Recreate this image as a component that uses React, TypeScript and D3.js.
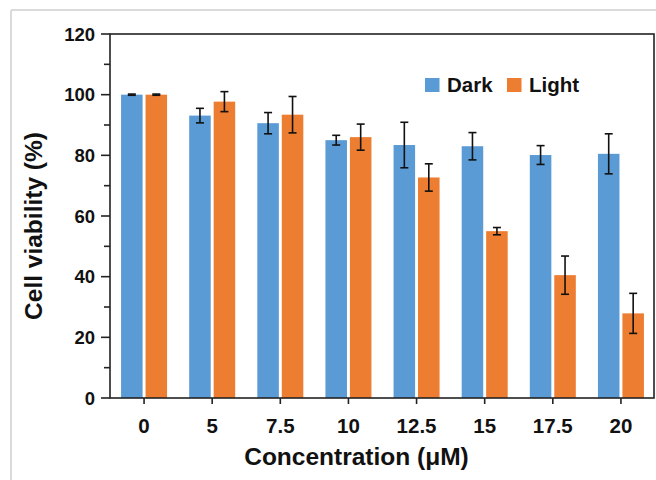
import React from "react";
import * as d3 from "d3";

// concentrations (µM) and viability values
const concentrations = ["0", "5", "7.5", "10", "12.5", "15", "17.5", "20"];
const seriesNames = ["Dark", "Light"];
const darkMean = [100, 93.1, 90.6, 85.0, 83.4, 83.0, 80.1, 80.5];
const darkErr = [0.2, 2.4, 3.5, 1.6, 7.5, 4.5, 3.1, 6.6];
const lightMean = [100, 97.7, 93.4, 86.0, 72.7, 55.0, 40.5, 27.9];
const lightErr = [0.2, 3.3, 6.0, 4.3, 4.5, 1.2, 6.3, 6.6];
const yTicks = [0, 20, 40, 60, 80, 100, 120];
const yMinorTicks = [10, 30, 50, 70, 90, 110];

const colors: Record<string, string> = { Dark: "#5B9BD5", Light: "#ED7D31" };
const FONT = "'Liberation Sans', Arial, sans-serif";

export default function App() {
  const W = 656;
  const H = 480;
  const margin = { top: 34, right: 1, bottom: 82, left: 110 };
  const x0 = margin.left;
  const x1 = W - margin.right;
  const yTop = margin.top;
  const yBottom = H - margin.bottom;

  const x = d3.scaleBand().domain(concentrations).range([x0, x1]).padding(0);
  const y = d3.scaleLinear().domain([0, 120]).range([yBottom, yTop]);

  const rows = concentrations.map((c, i) => ({
    c,
    values: [
      { key: "Dark", mean: darkMean[i], err: darkErr[i] },
      { key: "Light", mean: lightMean[i], err: lightErr[i] },
    ],
  }));

  const half = 23;
  const inner = d3.scaleBand().domain(seriesNames).range([-half, half]).paddingInner(0.12);
  const cap = 4;

  return (
    <svg
      width={W}
      height={H}
      style={{ position: "absolute", left: 0, top: 0, background: "#fff" }}
      fontFamily={FONT}
    >
      {/* outer light frame */}
      <line x1={11} x2={W} y1={10} y2={10} stroke="#dadada" strokeWidth={2} />
      <line x1={11} x2={11} y1={10} y2={H} stroke="#dadada" strokeWidth={2} />

      {/* bars */}
      {rows.map((r) => {
        const cx = (x(r.c) as number) + x.bandwidth() / 2;
        return (
          <g key={r.c} transform={`translate(${cx},0)`}>
            {r.values.map((v) => {
              const bx = inner(v.key) as number;
              const bw = inner.bandwidth();
              const mx = bx + bw / 2;
              return (
                <g key={v.key}>
                  <rect
                    x={bx}
                    y={y(v.mean)}
                    width={bw}
                    height={y(0) - y(v.mean)}
                    fill={colors[v.key]}
                  />
                  <g stroke="#111" strokeWidth={1.6}>
                    <line x1={mx} x2={mx} y1={y(v.mean + v.err)} y2={y(v.mean - v.err)} />
                    <line x1={mx - cap} x2={mx + cap} y1={y(v.mean + v.err)} y2={y(v.mean + v.err)} />
                    <line x1={mx - cap} x2={mx + cap} y1={y(v.mean - v.err)} y2={y(v.mean - v.err)} />
                  </g>
                </g>
              );
            })}
          </g>
        );
      })}

      {/* plot frame */}
      <rect
        x={x0}
        y={yTop}
        width={x1 - x0 - 1}
        height={yBottom - yTop}
        fill="none"
        stroke="#222"
        strokeWidth={1.6}
      />

      {/* y axis ticks */}
      {yTicks.map((t) => (
        <g key={t}>
          <line x1={x0 - 9} x2={x0} y1={y(t)} y2={y(t)} stroke="#222" strokeWidth={1.6} />
          <text
            x={x0 - 15}
            y={y(t)}
            dy="0.36em"
            textAnchor="end"
            fontSize={18.5}
            fontWeight="bold"
            fill="#111"
          >
            {t}
          </text>
        </g>
      ))}
      {yMinorTicks.map((t) => (
        <line key={t} x1={x0 - 6} x2={x0} y1={y(t)} y2={y(t)} stroke="#222" strokeWidth={1.6} />
      ))}

      {/* x axis ticks */}
      {concentrations.map((c) => {
        const cx = (x(c) as number) + x.bandwidth() / 2;
        return (
          <g key={c}>
            <line x1={cx} x2={cx} y1={yBottom} y2={yBottom + 6} stroke="#222" strokeWidth={1.6} />
            <text
              x={cx}
              y={433}
              textAnchor="middle"
              fontSize={20.5}
              fontWeight="bold"
              fill="#111"
            >
              {c}
            </text>
          </g>
        );
      })}

      {/* axis titles */}
      <text x={356.5} y={465} textAnchor="middle" fontSize={24.5} fontWeight="bold" fill="#111">
        Concentration (μM)
      </text>
      <text
        transform={`translate(42,${(130 + 322) / 2}) rotate(-90)`}
        textAnchor="middle"
        fontSize={24.5}
        fontWeight="bold"
        fill="#111"
      >
        Cell viability (%)
      </text>

      {/* legend */}
      <rect x={425} y={78} width={14.5} height={14} fill={colors.Dark} />
      <text x={447} y={91.7} fontSize={20.5} fontWeight="bold" fill="#111">
        Dark
      </text>
      <rect x={507} y={78} width={14.5} height={14} fill={colors.Light} />
      <text x={529} y={91.7} fontSize={20.5} fontWeight="bold" fill="#111">
        Light
      </text>
    </svg>
  );
}
